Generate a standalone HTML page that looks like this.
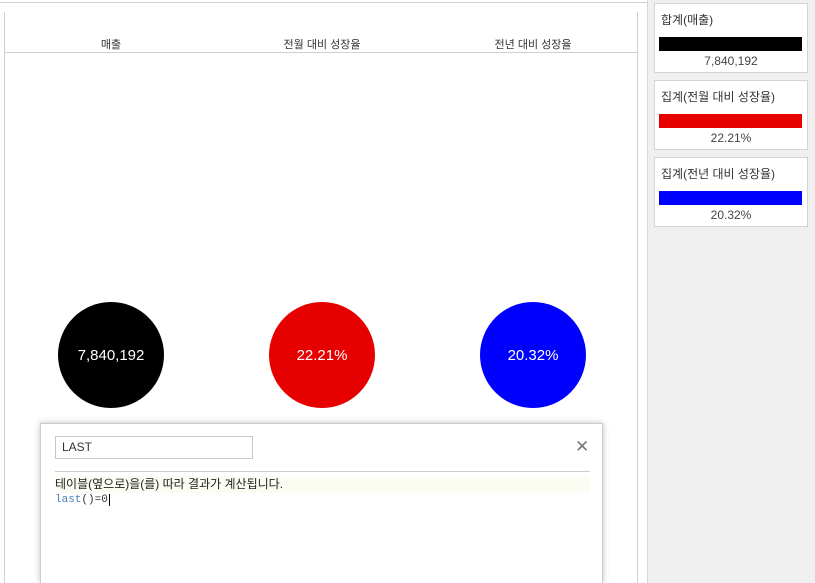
<!DOCTYPE html>
<html style="overflow:hidden;height:583px"><head><meta charset="utf-8"><style>
body{margin:0;width:815px;height:583px;overflow:hidden;background:#fff;font-family:"Liberation Sans","Noto Sans CJK KR",sans-serif;position:relative}
.abs{position:absolute}
.card{position:absolute;left:654px;width:152px;height:68px;background:#fff;border:1px solid #d4d4d4}
.card .t{position:absolute;left:6px;top:7px;font-size:12px;color:#333}
.card .b{position:absolute;left:4px;top:33px;width:143px;height:14px}
.card .v{position:absolute;left:0;width:100%;top:50px;text-align:center;font-size:12px;color:#444}
.hdr{position:absolute;top:36px;font-size:11px;color:#333;transform:translateX(-50%)}
</style></head><body>
<div class="abs" style="left:0;top:2px;width:648px;height:1px;background:#d0d0d0"></div>
<div class="abs" style="left:4px;top:12px;width:1px;height:571px;background:#d0d0d0"></div>
<div class="abs" style="left:637px;top:12px;width:1px;height:571px;background:#d0d0d0"></div>
<div class="abs" style="left:4px;top:52px;width:634px;height:1px;background:#d0d0d0"></div>
<div class="abs" style="left:647px;top:0;width:168px;height:583px;background:#f0f0f0;border-left:1px solid #d8d8d8"></div>
<div class="card" style="top:3px"><div class="t">합계(매출)</div><div class="b" style="background:#000"></div><div class="v">7,840,192</div></div>
<div class="card" style="top:80px"><div class="t">집계(전월 대비 성장율)</div><div class="b" style="background:#e60000"></div><div class="v">22.21%</div></div>
<div class="card" style="top:157px"><div class="t">집계(전년 대비 성장율)</div><div class="b" style="background:#0000ff"></div><div class="v">20.32%</div></div>
<div id="chart"></div>
<div class="abs" style="left:40px;top:423px;width:561px;height:159px;background:#fff;border:1px solid #ccc;border-bottom:none;box-shadow:0 0 6px rgba(0,0,0,.25)">
<div class="abs" style="left:14px;top:12px;width:190px;height:21px;border:1px solid #c8c8c8;font-size:12px;line-height:21px;padding-left:6px;color:#333">LAST</div>
<div class="abs" style="left:534px;top:13px;font-size:17px;color:#777;line-height:20px;font-family:'DejaVu Sans',sans-serif;font-weight:300">✕</div>
<div class="abs" style="left:14px;top:47px;width:535px;height:1px;background:#ccc"></div>
<div class="abs" style="left:14px;top:52px;width:535px;height:17px;background:#fbfdf3;font-size:12px;color:#222;line-height:17px">테이블(옆으로)을(를) 따라 결과가 계산됩니다.</div>
<div class="abs" style="left:14px;top:70px;font-family:'Liberation Mono',monospace;font-size:11px;color:#333"><span style="color:#4a7fb5">last</span>()=0<span style="border-left:1px solid #000;margin-left:1px"></span></div>
</div>
<script>
const labels=["매출","전월 대비 성장율","전년 대비 성장율"];
const values=["7,840,192","22.21%","20.32%"];
const colors=["#000000","#e60000","#0000ff"];
const chart=document.getElementById('chart');
function xPos(i){return 111+i*211;}
labels.forEach((l,i)=>{
 const h=document.createElement('div');h.className='hdr';h.style.left=xPos(i)+'px';h.textContent=l;
 
 
 chart.appendChild(h);
 const c=document.createElement('div');c.className='abs';
 c.style.cssText=`left:${xPos(i)-53}px;top:302px;width:106px;height:106px;border-radius:50%;background:${colors[i]};color:#fff;font-size:15px;display:flex;align-items:center;justify-content:center`;
 c.textContent=values[i];
 
 
 chart.appendChild(c);
});
</script>
</body></html>
